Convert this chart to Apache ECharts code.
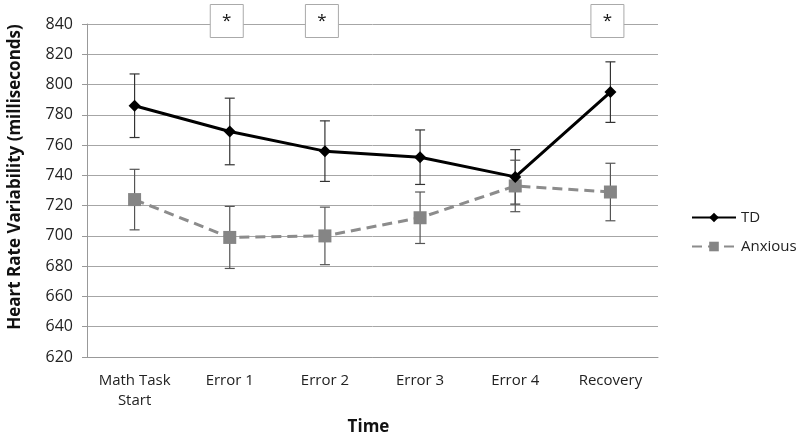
<!DOCTYPE html>
<html>
<head>
<meta charset="utf-8">
<script src="https://cdn.jsdelivr.net/npm/echarts@6/dist/echarts.min.js"></script>
<style>
html,body{margin:0;padding:0;background:#fff;}
#c{width:800px;height:436px;}
</style>
</head>
<body>
<div id="c"></div>
<script>
var categories = ['Math Task\nStart', 'Error 1', 'Error 2', 'Error 3', 'Error 4', 'Recovery'];
var tdValues = [786, 769, 756, 752, 739, 795];
var tdErrors = [21, 22, 20, 18, 18, 20];
var anxValues = [724, 699, 700, 712, 733, 729];
var anxErrors = [20, 20.5, 19, 17, 17, 19];
var significant = ['Error 1', 'Error 2', 'Recovery'];
var yTicks = { min: 620, max: 840, interval: 20 };
var yTitle = 'Heart Rate Variability (milliseconds)';

var FONT = 'Open Sans';

function errorSeries(name, values, errors, color) {
  return {
    type: 'custom',
    name: name + ' err',
    z: 5,
    silent: true,
    data: values.map(function (v, i) { return [i, v - errors[i], v + errors[i]]; }),
    renderItem: function (params, api) {
      var x = api.value(0);
      var lo = api.coord([x, api.value(1)]);
      var hi = api.coord([x, api.value(2)]);
      var w = 5;
      var st = { stroke: color, lineWidth: 1.2 };
      return {
        type: 'group',
        children: [
          { type: 'line', shape: { x1: lo[0], y1: lo[1], x2: hi[0], y2: hi[1] }, style: st },
          { type: 'line', shape: { x1: lo[0] - w, y1: lo[1], x2: lo[0] + w, y2: lo[1] }, style: st },
          { type: 'line', shape: { x1: hi[0] - w, y1: hi[1], x2: hi[0] + w, y2: hi[1] }, style: st }
        ]
      };
    }
  };
}

var chart = echarts.init(document.getElementById('c'));
chart.setOption({
  animation: false,
  backgroundColor: '#fff',
  textStyle: { fontFamily: FONT },
  grid: { left: 87, right: 142, top: 24, bottom: 79, outerBoundsMode: 'none', containLabel: false },
  graphic: [{
    type: 'text',
    x: 15,
    y: 177,
    rotation: Math.PI / 2,
    style: {
      text: yTitle,
      font: 'bold 17px "Open Sans"',
      fill: '#111',
      align: 'center',
      verticalAlign: 'middle'
    }
  }],
  legend: {
    orient: 'vertical',
    left: 686,
    top: 205,
    itemWidth: 44,
    itemHeight: 12,
    itemGap: 14,
    textStyle: { fontFamily: FONT, fontSize: 15, color: '#222' },
    data: ['TD', 'Anxious']
  },
  xAxis: {
    type: 'category',
    data: categories,
    name: 'Time',
    nameLocation: 'middle',
    nameGap: 62,
    nameTextStyle: { fontFamily: FONT, fontSize: 17, fontWeight: 'bold', color: '#111', padding: [0, 8, 0, 0] },
    axisLine: { lineStyle: { color: '#999', width: 1 } },
    axisTick: { show: false },
    axisLabel: { color: '#222', fontSize: 15, margin: 14, lineHeight: 20, fontFamily: FONT }
  },
  yAxis: {
    type: 'value',
    min: yTicks.min,
    max: yTicks.max,
    interval: yTicks.interval,
    axisLine: { show: true, lineStyle: { color: '#999', width: 1 } },
    axisTick: { show: true, length: 5, lineStyle: { color: '#999' } },
    axisLabel: { color: '#222', fontSize: 16, margin: 14, fontFamily: FONT },
    splitLine: { lineStyle: { color: '#a6a6a6', width: 1 } }
  },
  series: [
    errorSeries('TD', tdValues, tdErrors, '#333'),
    errorSeries('Anxious', anxValues, anxErrors, '#555'),
    {
      name: 'Anxious',
      type: 'line',
      data: anxValues,
      z: 6,
      symbol: 'rect',
      symbolSize: 13,
      itemStyle: { color: '#858585' },
      lineStyle: { color: '#8c8c8c', width: 3, type: [10, 6] }
    },
    {
      name: 'TD',
      type: 'line',
      data: tdValues,
      z: 7,
      symbol: 'diamond',
      symbolSize: 12,
      itemStyle: { color: '#000' },
      lineStyle: { color: '#000', width: 3 },
      markPoint: {
        silent: true,
        symbol: 'rect',
        symbolSize: [33, 33],
        symbolOffset: [-3, -3],
        itemStyle: { color: '#fff', borderColor: '#aaa', borderWidth: 1 },
        label: { show: true, position: 'inside', formatter: '*', color: '#111', fontSize: 17, fontFamily: FONT },
        data: significant.map(function (c) { return { coord: [c, yTicks.max] }; })
      }
    }
  ]
});
</script>
</body>
</html>
